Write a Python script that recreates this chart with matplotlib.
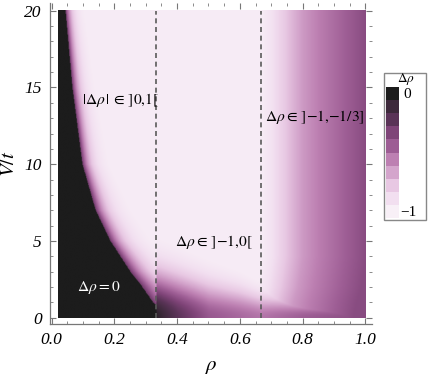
import numpy as np
import matplotlib
matplotlib.use("Agg")
import matplotlib.pyplot as plt
from matplotlib.colors import LinearSegmentedColormap
from matplotlib.patches import Rectangle

plt.rcParams['mathtext.fontset'] = 'stix'
plt.rcParams['font.family'] = ['Liberation Serif', 'DejaVu Serif']

# ---- data ----
# legend swatch colours, from Δρ = -1 (bottom) to Δρ = 0 (top)
legend_colors = ['#f8f0f7', '#f2dff0', '#e8c8e3', '#d4a5cc', '#bd80b2',
                 '#9e5e95', '#7f4478', '#5b3458', '#3e2a3c', '#1c1c1c']
legend_labels = ['0', '\u22121']

# boundary of the Δρ = 0 (black) region: rho_b(V)
V_b = [0.0, 0.8, 1.0, 2.0, 3.0, 5.0, 7.0, 10.0, 15.0, 20.0]
rho_b = [0.333, 0.333, 0.322, 0.288, 0.25, 0.186, 0.139, 0.097, 0.065, 0.043]
# width of the purple fringe next to the black region
V_w = [0.0, 2.0, 3.0, 5.0, 10.0, 20.0]
w_vals = [0.08, 0.07, 0.055, 0.042, 0.027, 0.019]
edge_amp = 0.72
# darkness profile towards rho = 1 (upper part of plot)
rho2 = [0.62, 0.667, 0.70, 0.75, 0.80, 0.85, 0.90, 0.95, 1.0]
d2 = [0.0, 0.02, 0.09, 0.24, 0.37, 0.45, 0.51, 0.57, 0.63]
V_s = [0.0, 1.0, 2.0, 3.0, 4.0, 20.0]
s_vals = [0.04, 0.03, 0.015, 0.007, 0.0, 0.0]
# dark band along V = 0
rho3 = [0.333, 0.34, 0.40, 0.50, 0.60, 0.667, 0.80, 1.0]
A3 = [0.95, 0.93, 0.78, 0.58, 0.52, 0.48, 0.56, 0.63]
h3 = [2.8, 2.8, 2.6, 2.2, 1.8, 1.4, 1.2, 1.2]
base_dark = 0.03

rho_grid = np.linspace(0.02, 1.0, 491)
V_grid = np.linspace(0.0, 20.0, 401)

labels = [
    (0.097, 14.2, r'$|\Delta\rho\,|\,\in\,]0{,}1[$', 'black'),
    (0.393, 4.95, r'$\Delta\rho\in\,]{-1}{,}0[$', 'black'),
    (0.68, 13.1, r'$\Delta\rho\in\,]{-1}{,}{-1}/3]$', 'black'),
    (0.081, 2.0, r'$\Delta\rho = 0$', 'white'),
]
dashed_x = [1/3, 2/3]

# ---- build field ----
R, VV = np.meshgrid(rho_grid, V_grid)
rb = np.interp(VV, V_b, rho_b)
w = np.interp(VV, V_w, w_vals)
D1 = np.where(R < rb, 1.0, edge_amp * np.exp(-(R - rb) / w))
s = np.interp(VV, V_s, s_vals)
D2 = np.interp(R + s, rho2, d2)
A = np.interp(R, rho3, A3, left=0.0)
h = np.interp(R, rho3, h3)
D3 = np.where(R >= 0.333, A * np.exp(-(VV / h) ** 2), 0.0)
D = np.maximum.reduce([D1, D2, D3, np.full_like(D1, base_dark)])
D = np.clip(D, 0, 1)
val = D - 1.0

cmap = LinearSegmentedColormap.from_list('dr', legend_colors)

fig = plt.figure(figsize=(4.36, 3.76), dpi=100)
W, H = 436, 376
ax = fig.add_axes([50 / W, (H - 324) / H, (372 - 50) / W, (324 - 3) / H])
ax.imshow(val, extent=[rho_grid[0], rho_grid[-1], V_grid[0], V_grid[-1]],
          origin='lower', aspect='auto', cmap=cmap, vmin=-1, vmax=0,
          interpolation='bilinear')
for xd in dashed_x:
    ln, = ax.plot([xd, xd], [V_grid[0], V_grid[-1]], color='#5a5a5a', lw=1.2)
    ln.set_dashes([3, 2.2])
for x, y, t, c in labels:
    ax.text(x, y, t, color=c, fontsize=11.2, ha='left', va='center')

ax.set_xlim(-0.005, 1.021)
ax.set_ylim(-0.4, 20.5)
ax.set_xticks([0, 0.2, 0.4, 0.6, 0.8, 1.0])
ax.set_xticks(np.arange(0, 1.001, 0.05), minor=True)
ax.set_yticks([0, 5, 10, 15, 20])
ax.set_yticks(np.arange(0, 20.5, 1), minor=True)
ax.set_xticklabels(['0.0', '0.2', '0.4', '0.6', '0.8', '1.0'], style='italic', fontsize=12.5)
ax.set_yticklabels(['0', '5', '10', '15', '20'], style='italic', fontsize=12.5)
ax.tick_params(which='both', direction='in', top=True, right=True, color='#777777')
ax.tick_params(which='major', length=4, width=0.8, pad=6)
ax.tick_params(which='minor', length=2, width=0.6)
for sp in ['top', 'right']:
    ax.spines[sp].set_visible(False)
for sp in ['left', 'bottom']:
    ax.spines[sp].set_color('#777777')
    ax.spines[sp].set_linewidth(0.9)
ax.set_xlabel(r'$\rho$', fontsize=15, labelpad=6)
ax.set_ylabel(r'$V/t$', fontsize=15, labelpad=4)

# ---- legend ----
fig.patches.append(Rectangle((384 / W, (H - 220) / H), 42 / W, 147 / H,
                             transform=fig.transFigure, fill=False,
                             edgecolor='#888888', lw=1.0))
lax = fig.add_axes([386 / W, (H - 218) / H, 13 / W, 131 / H])
lax.imshow(np.linspace(-1, 0, len(legend_colors)).reshape(-1, 1), origin='lower',
           cmap=cmap, vmin=-1, vmax=0, aspect='auto', interpolation='nearest')
lax.set_axis_off()
fig.text(406 / W, (H - 79) / H, r'$\Delta\rho$', fontsize=9.5, ha='center', va='center')
fig.text(403 / W, (H - 95) / H, legend_labels[0], fontsize=11, ha='left', va='center')
fig.text(400 / W, (H - 212) / H, legend_labels[1], fontsize=11, ha='left', va='center')

fig.savefig('out.png', dpi=100)
